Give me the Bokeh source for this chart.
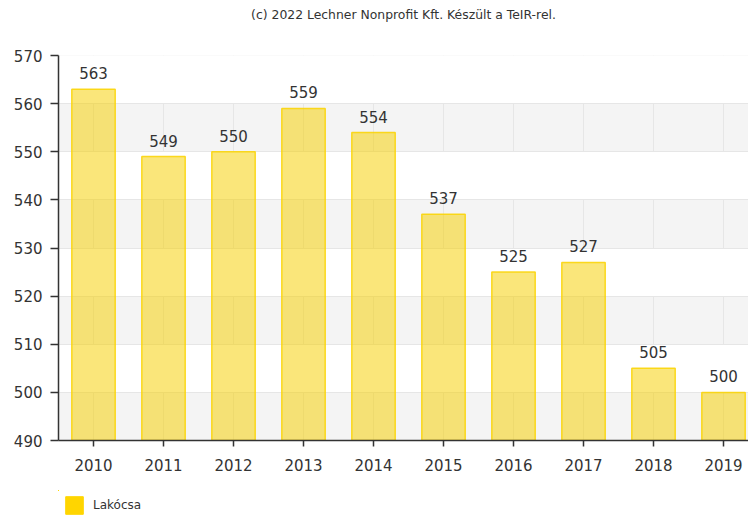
from bokeh.plotting import figure
from bokeh.layouts import column
from bokeh.models import ColumnDataSource, Range1d, FixedTicker, Legend, LegendItem
from bokeh.core.properties import value
from bokeh.embed import file_html
from bokeh.resources import INLINE

years = ["2010", "2011", "2012", "2013", "2014", "2015", "2016", "2017", "2018", "2019"]
values = [563, 549, 550, 559, 554, 537, 525, 527, 505, 500]
y_ticks = [490, 500, 510, 520, 530, 540, 550, 560, 570]
series_name = "Lakócsa"
title_text = "(c) 2022 Lechner Nonprofit Kft. Készült a TeIR-rel."

FONT = "DejaVu Sans"
idx = list(range(len(years)))
src = ColumnDataSource(dict(x=idx, top=values, label=[str(v) for v in values]))

# title strip
tf = figure(width=748, height=38, output_backend="svg", toolbar_location=None,
            x_range=Range1d(0, 1), y_range=Range1d(0, 1),
            x_axis_location=None, y_axis_location=None,
            min_border=0, min_border_left=58)
tf.outline_line_color = None
tf.xgrid.visible = False
tf.ygrid.visible = False
tf.title.text = title_text
tf.title.align = "center"
tf.title.text_font = FONT
tf.title.text_font_size = "12.4px"
tf.title.text_font_style = "normal"
tf.title.text_color = "#333333"
tf.title.standoff = 8

p = figure(width=748, height=452, output_backend="svg", toolbar_location=None,
           x_range=Range1d(-0.5, 9.357), y_range=Range1d(490, 570),
           min_border_left=58, min_border_right=0, min_border_top=17, min_border_bottom=50)
p.outline_line_color = None
p.background_fill_color = "#f4f4f4"

# grid: white bands on a light grey plot background
p.ygrid.ticker = FixedTicker(ticks=y_ticks)
p.ygrid.grid_line_color = "#e6e6e6"
p.ygrid.band_fill_color = "white"
p.ygrid.band_fill_alpha = 1.0
p.xgrid.ticker = FixedTicker(ticks=idx)
p.xgrid.grid_line_color = "#e6e6e6"

# bars
p.vbar(x="x", top="top", bottom=490, width=0.62, source=src,
       fill_color="#F5D000", fill_alpha=0.52, line_color="#FAD400", line_alpha=0.85, line_width=1.5)

p.text(x="x", y="top", text="label", source=src, text_align="center", text_baseline="bottom",
       y_offset=-10, text_font=value(FONT), text_font_size="15px", text_color="#333333")

# axes
for ax in (p.xaxis[0], p.yaxis[0]):
    ax.axis_line_color = "#333333"
    ax.axis_line_width = 1.5
    ax.major_tick_line_color = "#333333"
    ax.major_tick_line_width = 1.5
    ax.minor_tick_line_color = None
    ax.major_tick_in = 0
    ax.major_label_text_font = FONT
    ax.major_label_text_font_size = "15px"
    ax.major_label_text_color = "#333333"

p.yaxis.ticker = FixedTicker(ticks=y_ticks)
p.yaxis.major_tick_out = 8
p.yaxis.major_label_standoff = 8
p.xaxis.ticker = FixedTicker(ticks=idx)
p.xaxis.major_label_overrides = {i: y for i, y in zip(idx, years)}
p.xaxis.major_tick_out = 6
p.xaxis.major_label_standoff = 12

# legend strip (its ranges keep the bars out of view; only the legend shows)
lf = figure(width=748, height=25, output_backend="svg", toolbar_location=None,
            x_range=Range1d(100, 101), y_range=Range1d(0, 1),
            x_axis_location=None, y_axis_location=None, min_border=0)
lf.outline_line_color = None
lf.xgrid.visible = False
lf.ygrid.visible = False
leg_r = lf.vbar(x=idx, top=values, bottom=490, width=0.5, fill_color="#FFD500", line_color="#FFD500")
legend = Legend(items=[LegendItem(label=series_name, renderers=[leg_r])],
                location=(5, -2), orientation="horizontal",
                glyph_width=22, glyph_height=22, label_height=24, label_text_font=FONT,
                label_text_font_size="12px", label_text_color="#333333",
                border_line_color=None, background_fill_alpha=0,
                margin=0, padding=5, label_standoff=8)
lf.add_layout(legend)

layout = column(tf, p, lf, spacing=0)

with open("out.html", "w") as f:
    f.write(file_html(layout, INLINE))
